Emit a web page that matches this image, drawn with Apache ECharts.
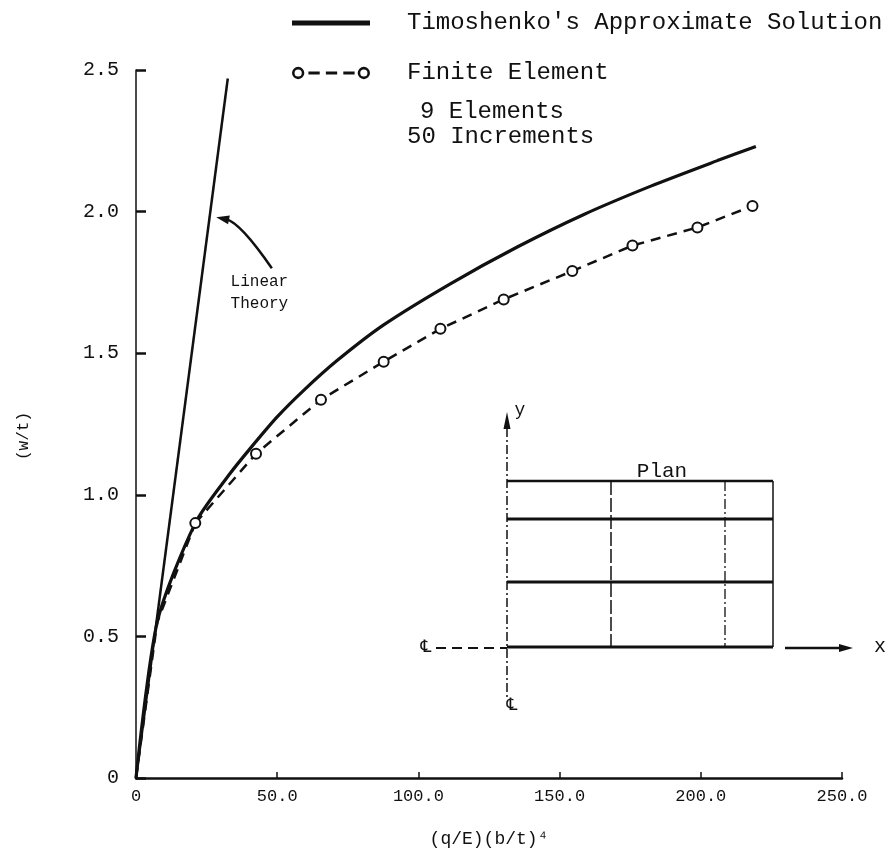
<!DOCTYPE html>
<html>
<head>
<meta charset="utf-8">
<script src="https://cdn.jsdelivr.net/npm/echarts@6/dist/echarts.min.js"></script>
<style>html,body{margin:0;padding:0;background:#fff}#chart{width:891px;height:865px}</style>
</head>
<body>
<div id="chart"></div>
<script>
// ---- data ----
const xTickLabels = ['0', '50.0', '100.0', '150.0', '200.0', '250.0'];
const yTickLabels = ['0', '0.5', '1.0', '1.5', '2.0', '2.5'];

const timoshenkoX = [0, 7.5, 21, 33.3, 40.4, 49.9, 59.3, 71.2, 87.7, 111.3, 135, 158.6, 182.3, 205.9, 219.5];
const timoshenkoY = [0, 0.55, 0.90, 1.075, 1.163, 1.274, 1.368, 1.474, 1.60, 1.745, 1.875, 1.99, 2.09, 2.18, 2.23];

// finite element points (circles)
const feX = [21, 42.5, 65.5, 87.7, 107.8, 130.2, 154.5, 175.8, 198.8, 218.3];
const feY = [0.90, 1.145, 1.336, 1.47, 1.586, 1.69, 1.79, 1.88, 1.944, 2.02];
// dashed lead-in of the finite element curve from the origin (no circles)
const feLeadX = [0, 7.5, 21];
const feLeadY = [0, 0.55, 0.90];

const linearX = [0, 32.5];
const linearY = [0, 2.47];

const linearLabelAt = [33.5, 1.715];
const linearArrowFrom = [48.1, 1.80];
const linearArrowBend = [36.8, 1.963];
const linearArrowTo = [28.4, 1.98];

const seriesNames = ["Timoshenko's Approximate Solution", 'Finite Element'];
const noteLines = ['9 Elements', '50 Increments'];

// ---- chart ----
const FONT = 'Liberation Mono';
const ink = '#111';
const chart = echarts.init(document.getElementById('chart'));

const timoData = timoshenkoX.map((x, i) => [x, timoshenkoY[i]]);
const feData = feX.map((x, i) => [x, feY[i]]);
const feLeadData = feLeadX.map((x, i) => [x, feLeadY[i]]);
const linData = linearX.map((x, i) => [x, linearY[i]]);

function seg(x1, y1, x2, y2, w, dash) {
  return { type: 'line', shape: { x1, y1, x2, y2 }, style: { stroke: ink, lineWidth: w, lineDash: dash || null }, silent: true };
}

const inset = [
  seg(507, 428, 507, 698, 1.5, [9, 3, 2, 3]),
  { type: 'polygon', shape: { points: [[507, 412], [503.5, 429], [510.5, 429]] }, style: { fill: ink } },
  { type: 'text', x: 520, y: 410, style: { text: 'y', font: '18px ' + FONT, fill: ink, align: 'center', verticalAlign: 'middle' } },
  seg(507, 481, 773, 481, 2.5),
  seg(507, 519, 773, 519, 3),
  seg(507, 582, 773, 582, 3),
  seg(507, 647, 773, 647, 3),
  seg(773, 481, 773, 647, 1.5),
  seg(611, 481, 611, 647, 1.5, [14, 3]),
  seg(725, 481, 725, 647, 1.3, [10, 3, 2, 3]),
  { type: 'text', x: 662, y: 471, style: { text: 'Plan', font: '21px ' + FONT, fill: ink, align: 'center', verticalAlign: 'middle' } },
  { type: 'text', x: 426, y: 648, style: { text: '\u2104', font: '17px DejaVu Sans', fill: ink, align: 'center', verticalAlign: 'middle' } },
  seg(436, 648, 507, 648, 2, [10, 6]),
  seg(785, 648, 842, 648, 2.5),
  { type: 'polygon', shape: { points: [[853, 648], [839, 644], [839, 652]] }, style: { fill: ink } },
  { type: 'text', x: 880, y: 647, style: { text: 'x', font: '20px ' + FONT, fill: ink, align: 'center', verticalAlign: 'middle' } },
  { type: 'text', x: 512, y: 706, style: { text: '\u2104', font: '17px DejaVu Sans', fill: ink, align: 'center', verticalAlign: 'middle' } },
  { type: 'text', x: 420, y: 112, style: { text: noteLines[0], font: '24px ' + FONT, fill: ink, verticalAlign: 'middle' } },
  { type: 'text', x: 407, y: 137, style: { text: noteLines[1], font: '24px ' + FONT, fill: ink, verticalAlign: 'middle' } }
];

const timoIcon = 'path://M0,0 L78,0 L78,5 L0,5 Z';
const feIcon = 'path://M0,6 A6,6 0 1,1 12,6 A6,6 0 1,1 0,6 Z M2.5,6 A3.5,3.5 0 1,0 9.5,6 A3.5,3.5 0 1,0 2.5,6 Z ' +
  'M16,4.5 L27,4.5 L27,7.5 L16,7.5 Z M33,4.5 L44,4.5 L44,7.5 L33,7.5 Z M50,4.5 L61,4.5 L61,7.5 L50,7.5 Z ' +
  'M64,6 A6,6 0 1,1 76,6 A6,6 0 1,1 64,6 Z M66.5,6 A3.5,3.5 0 1,0 73.5,6 A3.5,3.5 0 1,0 66.5,6 Z';

chart.setOption({
  animation: false,
  backgroundColor: '#fff',
  grid: { left: 136, right: 49, top: 70, bottom: 87 },
  legend: {
    orient: 'vertical',
    left: 287,
    top: 6,
    itemWidth: 78,
    itemHeight: 20,
    itemGap: 26,
    symbolKeepAspect: true,
    selectedMode: false,
    textStyle: { fontFamily: FONT, fontSize: 24, color: ink, padding: [0, 0, 0, 32] },
    data: [
      { name: seriesNames[0], icon: timoIcon, itemStyle: { color: ink, borderWidth: 0 } },
      { name: seriesNames[1], icon: feIcon, itemStyle: { color: ink, borderWidth: 0 } }
    ]
  },
  xAxis: {
    type: 'value',
    min: 0, max: 250, interval: 50,
    name: '(q/E)(b/t)\u2074',
    nameLocation: 'middle',
    nameGap: 52,
    nameTextStyle: { fontFamily: FONT, fontSize: 18, color: ink },
    axisLine: { show: true, lineStyle: { color: ink, width: 2.5 } },
    axisTick: { show: true, inside: true, length: 6, lineStyle: { color: ink, width: 1.5 } },
    splitLine: { show: false },
    axisLabel: {
      fontFamily: FONT, fontSize: 17, color: ink, margin: 10,
      formatter: v => xTickLabels[Math.round(v / 50)]
    }
  },
  yAxis: {
    type: 'value',
    min: 0, max: 2.5, interval: 0.5,
    name: '(w/t)',
    nameLocation: 'middle',
    nameGap: 104,
    nameRotate: 90,
    nameTextStyle: { fontFamily: FONT, fontSize: 16, color: ink, padding: [0, 24, 0, 0] },
    axisLine: { show: true, lineStyle: { color: ink, width: 1.5 } },
    axisTick: { show: true, inside: true, length: 10, lineStyle: { color: ink, width: 2.5 } },
    splitLine: { show: false },
    axisLabel: {
      fontFamily: FONT, fontSize: 20, color: ink, margin: 17,
      formatter: v => yTickLabels[Math.round(v / 0.5)]
    }
  },
  series: [
    {
      name: seriesNames[0],
      type: 'line',
      data: timoData,
      smooth: 0.25,
      symbol: 'none',
      lineStyle: { color: ink, width: 3.2 },
      itemStyle: { color: ink },
      z: 3
    },
    {
      name: seriesNames[1],
      type: 'line',
      data: feData,
      symbol: 'emptyCircle',
      symbolSize: 10,
      showAllSymbol: true,
      lineStyle: { color: ink, width: 2.5, type: [10, 7] },
      itemStyle: { color: ink, borderWidth: 2.5 },
      z: 4
    },
    {
      name: 'FE lead-in',
      type: 'line',
      data: feLeadData,
      symbol: 'none',
      lineStyle: { color: ink, width: 2.5, type: [10, 7] },
      z: 4
    },
    {
      name: 'Linear Theory',
      type: 'line',
      data: linData,
      symbol: 'none',
      lineStyle: { color: ink, width: 2.5 },
      z: 2,
      markPoint: {
        silent: true,
        symbol: 'circle',
        symbolSize: 0,
        label: {
          show: true, position: 'right', distance: 0,
          formatter: 'Linear\nTheory', fontFamily: FONT, fontSize: 16, color: ink, lineHeight: 22, align: 'left'
        },
        data: [{ coord: linearLabelAt }]
      }
    }
  ]
});

// curved arrow pointing at the linear-theory line, placed through the axes
const p0 = chart.convertToPixel({ gridIndex: 0 }, linearArrowFrom);
const pc = chart.convertToPixel({ gridIndex: 0 }, linearArrowBend);
const p2 = chart.convertToPixel({ gridIndex: 0 }, linearArrowTo);
let dx = p2[0] - pc[0], dy = p2[1] - pc[1];
const len = Math.hypot(dx, dy); dx /= len; dy /= len;
const L = 13, W = 4.5;
const base = [p2[0] - dx * L, p2[1] - dy * L];
const head = [[p2[0], p2[1]], [base[0] - dy * W, base[1] + dx * W], [base[0] + dy * W, base[1] - dx * W]];
const arrow = [
  { type: 'bezierCurve', shape: { x1: p0[0], y1: p0[1], cpx1: pc[0], cpy1: pc[1], x2: base[0] + dx * 3, y2: base[1] + dy * 3 },
    style: { stroke: ink, lineWidth: 2.5, fill: null }, silent: true },
  { type: 'polygon', shape: { points: head }, style: { fill: ink }, silent: true }
];

chart.setOption({ graphic: inset.concat(arrow) });
</script>
</body>
</html>
